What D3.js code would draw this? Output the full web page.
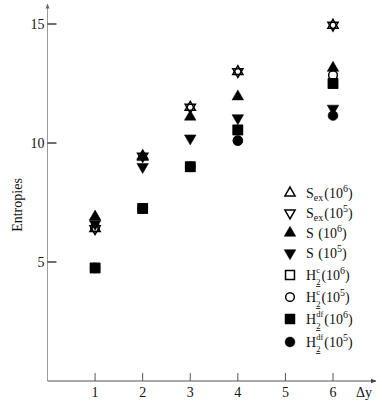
<!DOCTYPE html>
<meta charset="utf-8">
<title>Entropies</title>
<style>
  html, body { margin: 0; background: #fff; }
  svg text { font-family: "Liberation Serif", "DejaVu Serif", serif; fill: #111; }
</style>
<body>
<script src="https://d3js.org/d3.v7.min.js"></script>
<script>

// data
var dy = [1, 2, 3, 4, 6];
var sEx6 = [6.4, 9.45, 11.5, 13.0, 14.95];
var sEx5 = [6.4, 9.45, 11.5, 13.0, 14.95];
var s6   = [6.9, 9.4, 11.1, 11.95, 13.15];
var s5   = [6.6, 9.0, 10.2, 11.05, 11.45];
var h2c6  = [4.75, 7.25, 9.0, 10.55, 12.5];
var h2c5  = [6.45, 7.25, 9.0, 10.1, 12.85];
var h2df6 = [4.75, 7.25, 9.0, 10.55, 12.5];
var h2df5 = [4.75, 7.25, 9.0, 10.1, 11.15];

var xTicks = [1, 2, 3, 4, 5, 6];
var yTicks = [5, 10, 15];

// series in legend order
var series = [
  {key: "sEx6", values: sEx6, base: "S", sub: "ex", exp: "6"},
  {key: "sEx5", values: sEx5, base: "S", sub: "ex", exp: "5"},
  {key: "s6", values: s6, base: "S ", exp: "6"},
  {key: "s5", values: s5, base: "S ", exp: "5"},
  {key: "h2c6", values: h2c6, base: "H", sub: "2", sup: "c", exp: "6"},
  {key: "h2c5", values: h2c5, base: "H", sub: "2", sup: "c", exp: "5"},
  {key: "h2df6", values: h2df6, base: "H", sub: "2", sup: "df", exp: "6"},
  {key: "h2df5", values: h2df5, base: "H", sub: "2", sup: "df", exp: "5"}
];

// marker styles
var style = {
  sEx6:  {type: d3.symbolTriangle, size: 45, rot: 0, filled: false},
  sEx5:  {type: d3.symbolTriangle, size: 45, rot: 180, filled: false},
  s6:    {type: d3.symbolTriangle, size: 58, rot: 0, filled: true},
  s5:    {type: d3.symbolTriangle, size: 58, rot: 180, filled: true},
  h2c6:  {type: d3.symbolSquare, size: 80, rot: 0, filled: false},
  h2c5:  {type: d3.symbolCircle, size: 60, rot: 0, filled: false},
  h2df6: {type: d3.symbolSquare, size: 100, rot: 0, filled: true},
  h2df5: {type: d3.symbolCircle, size: 76, rot: 0, filled: true}
};
var drawOrder = ["h2c6", "h2c5", "h2df5", "h2df6", "s5", "s6", "sEx5", "sEx6"];

var width = 382, height = 406;
var x = d3.scaleLinear().domain([0, 6]).range([47.5, 333]);
var y = d3.scaleLinear().domain([0, 15]).range([381, 24]);

var svg = d3.select("body").append("svg")
    .attr("width", width)
    .attr("height", height);

var defs = svg.append("defs");
defs.append("marker").attr("id", "arrY")
    .attr("viewBox", "0 0 10 10").attr("refX", 9).attr("refY", 5)
    .attr("markerWidth", 5).attr("markerHeight", 5).attr("orient", "auto")
  .append("path").attr("d", "M0,1L10,5L0,9Z").attr("fill", "#666");
defs.append("marker").attr("id", "arrX")
    .attr("viewBox", "0 0 10 10").attr("refX", 9).attr("refY", 5)
    .attr("markerWidth", 6).attr("markerHeight", 6).attr("orient", "auto")
  .append("path").attr("d", "M0,1L10,5L0,9Z").attr("fill", "#444");

// axes
svg.append("line")
    .attr("x1", x(0)).attr("x2", x(0))
    .attr("y1", y(0)).attr("y2", 4)
    .attr("stroke", "#9a9a9a").attr("stroke-width", 1)
    .attr("marker-end", "url(#arrY)");
svg.append("line")
    .attr("x1", x(0)).attr("x2", 376)
    .attr("y1", y(0)).attr("y2", y(0))
    .attr("stroke", "#555").attr("stroke-width", 1)
    .attr("marker-end", "url(#arrX)");

var yAxis = svg.append("g");
yAxis.selectAll("line").data(yTicks).join("line")
    .attr("x1", x(0)).attr("x2", x(0) + 9)
    .attr("y1", function(d) { return y(d); })
    .attr("y2", function(d) { return y(d); })
    .attr("stroke", "#111").attr("stroke-width", 1.2);
yAxis.selectAll("text").data(yTicks).join("text")
    .attr("x", x(0) - 3)
    .attr("y", function(d) { return y(d); })
    .attr("dy", "0.35em")
    .attr("text-anchor", "end")
    .attr("font-size", 14)
    .text(function(d) { return d; });

var xAxis = svg.append("g");
xAxis.selectAll("line").data(xTicks).join("line")
    .attr("x1", function(d) { return x(d); })
    .attr("x2", function(d) { return x(d); })
    .attr("y1", y(0)).attr("y2", y(0) - 8)
    .attr("stroke", "#555").attr("stroke-width", 1);
xAxis.selectAll("text").data(xTicks).join("text")
    .attr("x", function(d) { return x(d); })
    .attr("y", 397)
    .attr("text-anchor", "middle")
    .attr("font-size", 14)
    .text(function(d) { return d; });

svg.append("text")
    .attr("x", 356).attr("y", 397)
    .attr("font-size", 14)
    .text("Δy");

svg.append("text")
    .attr("transform", "translate(22,205) rotate(-90)")
    .attr("text-anchor", "middle")
    .attr("font-size", 14)
    .text("Entropies");

function markerPath(k) {
  return d3.symbol().type(style[k].type).size(style[k].size)();
}
function paint(sel, k) {
  var st = style[k];
  sel.attr("d", markerPath(k))
     .attr("fill", st.filled ? "#000" : "none")
     .attr("stroke", "#000")
     .attr("stroke-width", st.filled ? 0.5 : 1.5);
}

// points
var plot = svg.append("g");
drawOrder.forEach(function(k) {
  var s = series.find(function(d) { return d.key === k; });
  var pts = s.values.map(function(v, i) { return {x: dy[i], y: v}; });
  plot.append("g").selectAll("path").data(pts).join("path")
      .call(paint, k)
      .attr("transform", function(d) {
        return "translate(" + x(d.x) + "," + y(d.y) + ") rotate(" + style[k].rot + ")";
      });
});

// legend
var legendY = [193, 213, 233, 253, 275, 297, 319, 342];
var legend = svg.append("g");
series.forEach(function(s, i) {
  var ly = legendY[i];
  legend.append("path")
      .call(paint, s.key)
      .attr("transform", "translate(290," + ly + ") rotate(" + style[s.key].rot + ")");

  var tx = 306, base = ly + 5;
  var t = legend.append("text").attr("x", tx).attr("y", base).attr("font-size", 14)
      .attr("xml:space", "preserve").style("white-space", "pre").text(s.base);
  tx += t.node().getComputedTextLength();
  var w = 0;
  var stacked = s.sup && s.sub;
  if (s.sup) {
    var sp = legend.append("text").attr("x", tx).attr("y", base - 7)
        .attr("font-size", stacked ? 8.5 : 10).text(s.sup);
    w = Math.max(w, sp.node().getComputedTextLength());
  }
  if (s.sub) {
    var sb = legend.append("text").attr("x", tx).attr("y", base + (stacked ? 5 : 3))
        .attr("font-size", stacked ? 8.5 : 10).text(s.sub);
    if (stacked) sb.attr("text-decoration", "underline");
    w = Math.max(w, sb.node().getComputedTextLength());
  }
  tx += w + 1;
  var p = legend.append("text").attr("x", tx).attr("y", base).attr("font-size", 14).text("(10");
  tx += p.node().getComputedTextLength();
  var e = legend.append("text").attr("x", tx).attr("y", base - 6).attr("font-size", 10).text(s.exp);
  tx += e.node().getComputedTextLength();
  legend.append("text").attr("x", tx).attr("y", base).attr("font-size", 14).text(")");
});

</script>
</body>
